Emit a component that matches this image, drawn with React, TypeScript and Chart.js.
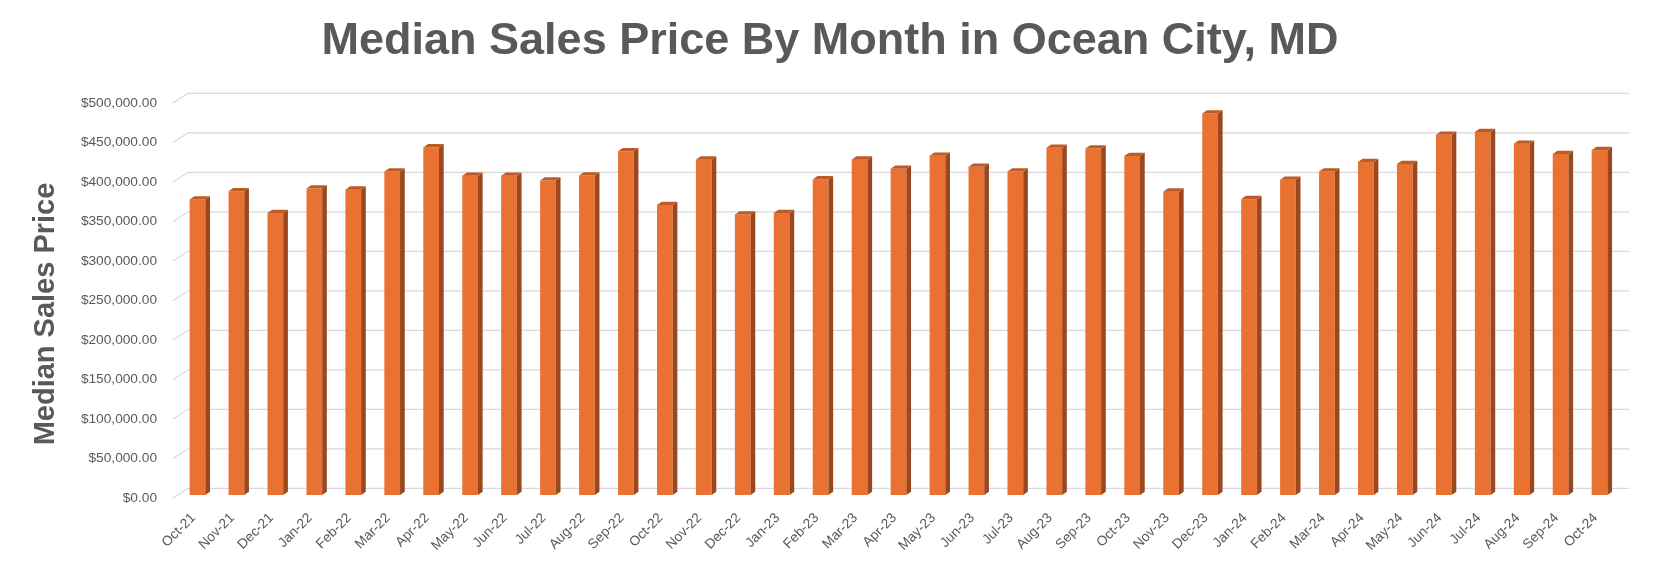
import { useEffect, useRef } from 'react';
import { Chart, registerables } from 'chart.js';
Chart.register(...registerables);

const months = [
  'Oct-21', 'Nov-21', 'Dec-21',
  'Jan-22', 'Feb-22', 'Mar-22', 'Apr-22', 'May-22', 'Jun-22', 'Jul-22', 'Aug-22', 'Sep-22', 'Oct-22', 'Nov-22', 'Dec-22',
  'Jan-23', 'Feb-23', 'Mar-23', 'Apr-23', 'May-23', 'Jun-23', 'Jul-23', 'Aug-23', 'Sep-23', 'Oct-23', 'Nov-23', 'Dec-23',
  'Jan-24', 'Feb-24', 'Mar-24', 'Apr-24', 'May-24', 'Jun-24', 'Jul-24', 'Aug-24', 'Sep-24', 'Oct-24',
];

const medianPrice = [
  374000, 384500, 357000,
  388000, 386500, 409500, 440000, 404000, 404000, 398000, 404500, 435000, 367000, 424500, 355000,
  357000, 399500, 424500, 413000, 429500, 415500, 409500, 439500, 438500, 429000, 384000, 483000,
  374500, 399000, 409500, 421500, 419000, 456000, 459500, 444500, 431500, 436500,
];

const yMin = 0;
const yMax = 500000;
const yStep = 50000;

const chartTitle = 'Median Sales Price By Month in Ocean City, MD';
const yTitle = 'Median Sales Price';

const FONT = 'Liberation Sans, Arial, sans-serif';
const TEXT = '#595959';
const GRID = '#D9D9D9';
const FRONT = '#E97132';
const SIDE = '#9C481E';
const TOP = '#BD5A25';

// fake Excel 3D: back wall gridlines + side/top faces on each bar
const DX = 4.7;
const DY = 3.3;
const WALL_X = 10;
const WALL_Y = 6.7;

const money = (v: number) =>
  '$' + v.toLocaleString('en-US', { minimumFractionDigits: 2, maximumFractionDigits: 2 });

const box3d = {
  id: 'box3d',
  beforeDatasetsDraw(chart: any) {
    const { ctx, chartArea, scales } = chart;
    const ys = scales.y;
    ctx.save();
    ctx.strokeStyle = GRID;
    ctx.lineWidth = 1.3;
    ys.ticks.forEach((t: any) => {
      const py = ys.getPixelForValue(t.value);
      ctx.beginPath();
      ctx.moveTo(chartArea.left - 5.3, py + 3.3);
      ctx.lineTo(chartArea.left + WALL_X, py - WALL_Y);
      ctx.lineTo(chartArea.right + WALL_X, py - WALL_Y);
      ctx.stroke();
    });
    ctx.restore();
  },
  afterDatasetsDraw(chart: any) {
    const { ctx } = chart;
    const meta = chart.getDatasetMeta(0);
    ctx.save();
    meta.data.forEach((bar: any) => {
      const { x, y, base, width } = bar.getProps(['x', 'y', 'base', 'width'], true);
      const l = x - width / 2;
      const r = x + width / 2;
      ctx.fillStyle = SIDE;
      ctx.beginPath();
      ctx.moveTo(r, y);
      ctx.lineTo(r + DX, y - DY);
      ctx.lineTo(r + DX, base - DY);
      ctx.lineTo(r, base);
      ctx.closePath();
      ctx.fill();
      ctx.fillStyle = TOP;
      ctx.beginPath();
      ctx.moveTo(l, y);
      ctx.lineTo(l + DX, y - DY);
      ctx.lineTo(r + DX, y - DY);
      ctx.lineTo(r, y);
      ctx.closePath();
      ctx.fill();
    });
    ctx.restore();
  },
  afterDraw(chart: any) {
    const { ctx } = chart;
    ctx.save();
    ctx.fillStyle = TEXT;
    ctx.textAlign = 'center';
    ctx.textBaseline = 'alphabetic';
    ctx.font = `bold 45px ${FONT}`;
    ctx.fillText(chartTitle, 830, 54);
    ctx.translate(53.5, 314);
    ctx.rotate(-Math.PI / 2);
    ctx.font = `bold 29px ${FONT}`;
    ctx.fillText(yTitle, 0, 0);
    ctx.restore();
  },
};

export default function App() {
  const ref = useRef<HTMLCanvasElement | null>(null);
  useEffect(() => {
    document.body.style.margin = '0';
    if (!ref.current) return;
    const c = new Chart(ref.current, {
      type: 'bar',
      data: {
        labels: months,
        datasets: [
          {
            label: 'Median Sales Price',
            data: medianPrice,
            backgroundColor: FRONT,
            categoryPercentage: 1,
            barPercentage: 0.403,
          },
        ],
      },
      options: {
        responsive: false,
        animation: false,
        layout: { padding: { left: 0, right: 54, top: 100, bottom: 0 } },
        plugins: {
          legend: { display: false },
          tooltip: { enabled: false },
          title: { display: false },
        },
        scales: {
          x: {
            grid: { display: false, drawTicks: false },
            border: { display: false },
            ticks: {
              color: TEXT,
              font: { family: FONT, size: 13.7 },
              minRotation: 45,
              maxRotation: 45,
              autoSkip: false,
              padding: 15,
              labelOffset: -4,
            },
            afterFit: (s: any) => {
              s.height = 67;
            },
          },
          y: {
            min: yMin,
            max: yMax,
            grid: { display: false, drawTicks: false },
            border: { display: false },
            ticks: {
              stepSize: yStep,
              color: TEXT,
              font: { family: FONT, size: 13.7 },
              padding: 21,
              labelOffset: 3,
              callback: (v: any) => money(Number(v)),
            },
            afterFit: (s: any) => {
              s.width = 178;
            },
          },
        },
      },
      plugins: [box3d],
    });
    return () => c.destroy();
  }, []);
  return (
    <div style={{ width: 1673, height: 562, background: '#fff' }}>
      <canvas ref={ref} width={1673} height={562} />
    </div>
  );
}
